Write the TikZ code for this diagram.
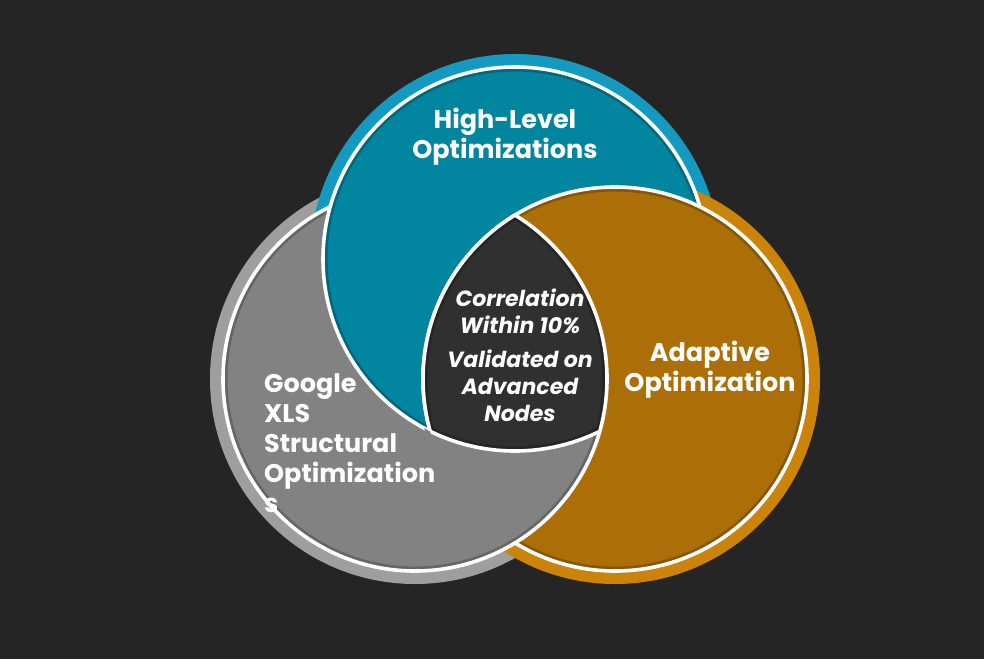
\documentclass[tikz,border=0pt]{standalone}
\usepackage{fontspec}
\setmainfont{Poppins}
\definecolor{bgc}{HTML}{252525}
\definecolor{tealf}{HTML}{02869F}
\definecolor{tealr}{HTML}{1499C0}
\definecolor{orgf}{HTML}{AC6F07}
\definecolor{orgr}{HTML}{CC830A}
\definecolor{grayf}{HTML}{828282}
\definecolor{grayr}{HTML}{9E9E9E}
\definecolor{darkf}{HTML}{303030}
\tikzset{
  outl/.style={draw=white, line width=3.6pt},
  shade in/.style={draw=black, opacity=0.22, line width=9pt},
  lbl/.style={text=white, font=\fontsize{25.5}{30}\selectfont\bfseries, align=center, inner sep=0pt},
  clbl/.style={text=white, font=\fontsize{22}{27}\selectfont\bfseries\itshape, align=center, inner sep=0pt}
}
\newcommand{\RR}{192pt}
\newcommand{\RC}{197pt}
\newcommand{\RO}{205pt}
\newcommand{\disc}[2]{%
  \fill[#2] (#1) circle[radius=\RR];
  \begin{scope}\clip (#1) circle[radius=\RR];
    \draw[shade in] (#1) circle[radius=\RR];
  \end{scope}
  \draw[outl] (#1) circle[radius=\RR];}
\begin{document}
\begin{tikzpicture}[x=1pt,y=-1pt]
\useasboundingbox (0,0) rectangle (984,659);
\fill[bgc] (0,0) rectangle (984,659);
\coordinate (G) at (415,379);
\coordinate (T) at (515,259);
\coordinate (O) at (615,379);
% outer rings
\fill[grayr] (G) circle[radius=\RO];
\fill[tealr] (T) circle[radius=\RO];
\fill[orgr] (O) circle[radius=\RO];
% discs
\disc{G}{grayf}
\disc{T}{tealf}
\disc{O}{orgf}
% gray over orange (outside teal)
\begin{scope}[even odd rule]
  \clip (O) circle[radius=\RC];
  \clip (0,0) rectangle (984,659) (T) circle[radius=\RR];
  \disc{G}{grayf}
\end{scope}
% centre region
\begin{scope}
  \clip (G) circle[radius=\RR];
  \clip (T) circle[radius=\RR];
  \clip (O) circle[radius=\RR];
  \fill[darkf] (0,0) rectangle (984,659);
  \draw[shade in] (O) circle[radius=\RR];
  \draw[shade in] (G) circle[radius=\RR];
  \draw[shade in] (T) circle[radius=\RR];
\end{scope}
\begin{scope}
  \clip (G) circle[radius=\RR];
  \clip (T) circle[radius=\RR];
  \draw[outl] (O) circle[radius=\RR];
\end{scope}
\begin{scope}
  \clip (G) circle[radius=\RR];
  \clip (O) circle[radius=\RR];
  \draw[outl] (T) circle[radius=\RR];
\end{scope}
\begin{scope}
  \clip (T) circle[radius=\RR];
  \clip (O) circle[radius=\RR];
  \draw[outl] (G) circle[radius=\RR];
\end{scope}
% labels
\node[lbl] (hl) at (505,137) {High-Level\\Optimizations};
\node[lbl] (ad) at (710,370) {Adaptive\\Optimization};
\node[lbl, align=left, anchor=west] (gx) at (264,443) {Google\\XLS\\Structural\\Optimization\\s};
\node[clbl] (cw) at (520,311.5) {Correlation\\Within 10\%};
\node[clbl] (va) at (520,386) {Validated on\\Advanced\\Nodes};
\end{tikzpicture}
\end{document}
